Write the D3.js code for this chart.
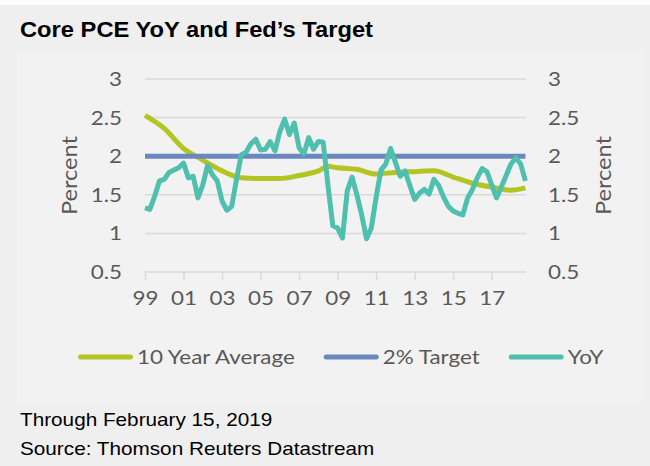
<!DOCTYPE html>
<html>
<head>
<meta charset="utf-8">
<script src="https://cdn.jsdelivr.net/npm/d3@7"></script>
<style>
  body { margin: 0; background: #ffffff; }
  svg { display: block; }
</style>
</head>
<body>
<svg id="chart"></svg>
<script>
// quarterly data, 1999 Q1 .. 2018 Q4
const startYear = 1999;
const yoyValues = [
  1.33, 1.31, 1.48, 1.68, 1.70, 1.79, 1.82, 1.85, 1.91, 1.72,
  1.74, 1.46, 1.63, 1.88, 1.76, 1.68, 1.42, 1.30, 1.35, 1.70,
  2.02, 2.05, 2.16, 2.22, 2.08, 2.09, 2.19, 2.07, 2.32, 2.48,
  2.28, 2.43, 2.11, 2.03, 2.24, 2.09, 2.19, 2.18, 1.62, 1.10,
  1.07, 0.94, 1.55, 1.73, 1.50, 1.24, 0.93, 1.07, 1.47, 1.82,
  1.90, 2.10, 1.92, 1.74, 1.81, 1.62, 1.44, 1.52, 1.57, 1.51,
  1.70, 1.62, 1.47, 1.35, 1.29, 1.26, 1.24, 1.46, 1.57, 1.72,
  1.84, 1.80, 1.63, 1.46, 1.60, 1.75, 1.90, 1.98, 1.90, 1.68
];
// 10 year average, read at each year start
const avgYears = [1999, 2000, 2001, 2002, 2003, 2004, 2005, 2006, 2007, 2008,
                  2008.5, 2009, 2010, 2011, 2012, 2013, 2014, 2015, 2016, 2017, 2018, 2018.75];
const avgValues = [2.53, 2.36, 2.10, 1.95, 1.81, 1.72, 1.71, 1.71, 1.75, 1.81,
                   1.87, 1.85, 1.83, 1.77, 1.79, 1.80, 1.81, 1.73, 1.65, 1.60, 1.56, 1.59];
const targetValue = 2;
const seriesNames = ["10 Year Average", "2% Target", "YoY"];
const seriesColors = ["#b3c523", "#6a88bf", "#4fbfae"];
const yTicks = [0.5, 1, 1.5, 2, 2.5, 3];
const xTickYears = [1999, 2001, 2003, 2005, 2007, 2009, 2011, 2013, 2015, 2017];
const footerLines = ["Through February 15, 2019", "Source: Thomson Reuters Datastream"];

const W = 650, H = 466;
const svg = d3.select("#chart").attr("width", W).attr("height", H);

// backgrounds
svg.append("rect").attr("x", 0).attr("y", 0).attr("width", W).attr("height", H).attr("fill", "#efefef");
svg.append("rect").attr("x", 0).attr("y", 0).attr("width", W).attr("height", 5).attr("fill", "#ffffff");
svg.append("rect").attr("x", 17).attr("y", 50).attr("width", 626).attr("height", 352).attr("fill", "#f2f2f2");

// title
svg.append("text")
    .attr("x", 20).attr("y", 37)
    .attr("font-family", "Liberation Sans, Arial, sans-serif")
    .attr("font-weight", "bold")
    .attr("font-size", 22)
    .attr("textLength", 353).attr("lengthAdjust", "spacingAndGlyphs")
    .attr("fill", "#000")
    .text("Core PCE YoY and Fed\u2019s Target");

const plot = {left: 145, right: 526, top: 79, bottom: 272};
const endYear = 2018.78;

const x = d3.scaleLinear().domain([startYear, endYear]).range([plot.left, plot.right]);
const y = d3.scaleLinear().domain([0.5, 3]).range([plot.bottom, plot.top]);

const labelFont = "Lato, 'Open Sans', sans-serif";
const labelColor = "#595959";

// stretch a text to a wanted width (the source picture is a bit wide)
function widen(sel, factor) {
    sel.each(function () {
        const w = this.getComputedTextLength();
        d3.select(this).attr("textLength", w * factor).attr("lengthAdjust", "spacingAndGlyphs");
    });
}

// grid
svg.append("g").selectAll("line")
    .data(yTicks)
    .join("line")
    .attr("x1", plot.left).attr("x2", plot.right)
    .attr("y1", d => y(d)).attr("y2", d => y(d))
    .attr("stroke", "#d9d9d9").attr("stroke-width", 1.5);

// left + right axes
const fmtY = d => d3.format("")(d);
const leftAxis = svg.append("g")
    .attr("transform", "translate(" + plot.left + ",0)")
    .call(d3.axisLeft(y).tickValues(yTicks).tickSize(0).tickPadding(23).tickFormat(fmtY));
const rightAxis = svg.append("g")
    .attr("transform", "translate(" + plot.right + ",0)")
    .call(d3.axisRight(y).tickValues(yTicks).tickSize(0).tickPadding(22).tickFormat(fmtY));
[leftAxis, rightAxis].forEach(a => {
    a.select(".domain").remove();
    a.selectAll("text")
        .attr("font-family", labelFont)
        .attr("font-size", 20)
        .attr("fill", labelColor)
        .call(widen, 1.12);
});

// bottom axis
const bottomAxis = svg.append("g")
    .attr("transform", "translate(0," + plot.bottom + ")")
    .call(d3.axisBottom(x).tickValues(xTickYears).tickSize(8).tickPadding(11)
        .tickFormat(d => d3.format("02")(d % 100)));
bottomAxis.select(".domain").remove();
bottomAxis.selectAll("line").attr("stroke", "#d9d9d9").attr("stroke-width", 1.5);
bottomAxis.selectAll("text")
    .attr("font-family", labelFont)
    .attr("font-size", 20)
    .attr("fill", labelColor)
    .call(widen, 1.12);

// axis titles
[69, 603].forEach(cx => {
    svg.append("text")
        .attr("transform", "translate(" + cx + "," + ((plot.top + plot.bottom) / 2) + ") rotate(-90)")
        .attr("text-anchor", "middle")
        .attr("dy", "0.35em")
        .attr("font-family", labelFont)
        .attr("font-size", 22)
        .attr("fill", labelColor)
        .attr("textLength", 79).attr("lengthAdjust", "spacingAndGlyphs")
        .text("Percent");
});

// series
const line = d3.line().x(d => x(d[0])).y(d => y(d[1]));

const avgData = avgYears.map((yr, i) => [yr, avgValues[i]]);
const yoyData = yoyValues.map((v, i) => [startYear + i / 4, v]);
const targetData = [[startYear, targetValue], [startYear + (yoyValues.length - 1) / 4, targetValue]];

svg.append("path")
    .datum(avgData)
    .attr("fill", "none")
    .attr("stroke", seriesColors[0])
    .attr("stroke-width", 5)
    .attr("stroke-linejoin", "round")
    .attr("d", d3.line().x(d => x(d[0])).y(d => y(d[1])).curve(d3.curveMonotoneX));

svg.append("path")
    .datum(targetData)
    .attr("fill", "none")
    .attr("stroke", seriesColors[1])
    .attr("stroke-width", 5)
    .attr("d", line);

svg.append("path")
    .datum(yoyData)
    .attr("fill", "none")
    .attr("stroke", seriesColors[2])
    .attr("stroke-width", 5)
    .attr("stroke-linejoin", "round")
    .attr("d", line);

// legend
const legendY = 357;
let lx = 78;
seriesNames.forEach((name, i) => {
    svg.append("line")
        .attr("x1", lx + 2.5).attr("x2", lx + 52.5)
        .attr("y1", legendY).attr("y2", legendY)
        .attr("stroke", seriesColors[i])
        .attr("stroke-width", 5)
        .attr("stroke-linecap", "round");
    const t = svg.append("text")
        .attr("x", lx + 59).attr("y", legendY + 7)
        .attr("font-family", labelFont)
        .attr("font-size", 20)
        .attr("fill", labelColor)
        .text(name)
        .call(widen, 1.12);
    lx += 59 + (+t.attr("textLength")) + 29;
});

// footer
footerLines.forEach((txt, i) => {
    svg.append("text")
        .attr("x", 20).attr("y", 426 + i * 29)
        .attr("font-family", "Liberation Sans, Arial, sans-serif")
        .attr("font-size", 18.5)
        .attr("fill", "#000")
        .text(txt)
        .call(widen, 1.12);
});
</script>
</body>
</html>
